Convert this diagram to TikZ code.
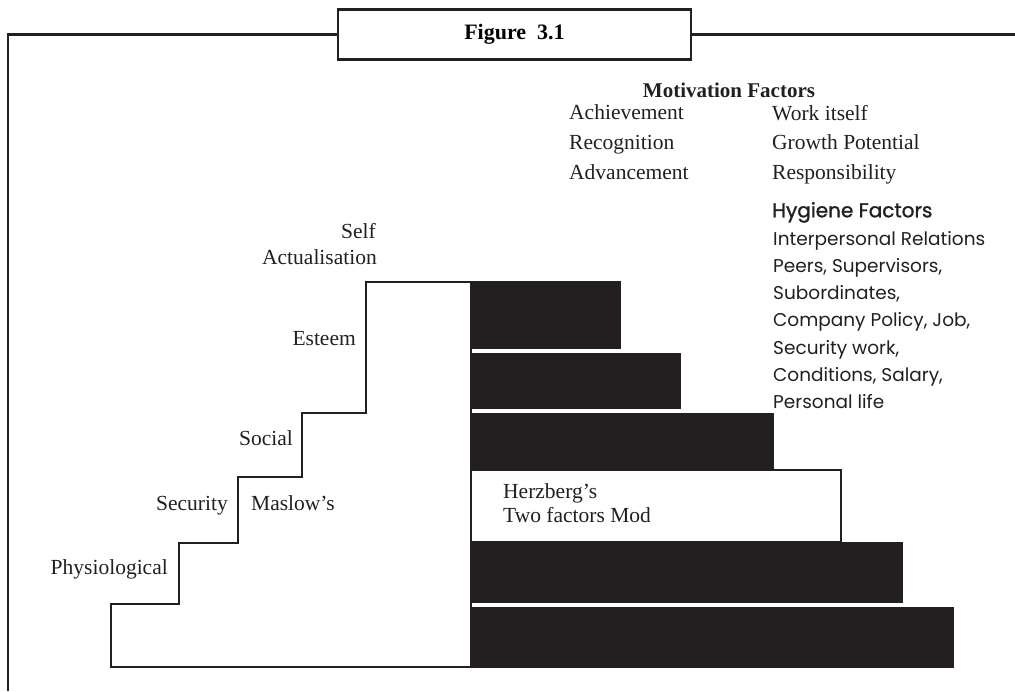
\documentclass[tikz,border=0pt]{standalone}
\usepackage{fontspec}
\setmainfont{Liberation Serif}
\newfontfamily\hygfont{Poppins}
\newfontfamily\hyghead[FakeBold=1.2]{Poppins}
\definecolor{ink}{HTML}{231F20}
\tikzset{
	lbl/.style={inner sep=0pt, text=ink, font=\fontsize{21.5}{25}\selectfont},
	hyg/.style={inner sep=0pt, anchor=mid west, text=ink, font=\hygfont\fontsize{18.5}{22}\selectfont},
	bar/.style={fill=ink, draw=none},
	rim/.style={draw=ink, line width=2.2pt}
}
\begin{document}
\begin{tikzpicture}[x=1pt,y=-1pt]
	\useasboundingbox (0,0) rectangle (1015,691);
	% frame and title
	\node(fig) [rim, fill=white, minimum width=353, minimum height=50, font=\fontsize{22}{25}\selectfont\bfseries] at (514.5,34.5) {Figure~ 3.1};
	\draw[rim] (fig.west) -- (8,34.5) -- (8,691);
	\draw[rim] (fig.east) -- (1015,34.5);
	% Herzberg bars
	\fill[bar] (471,281) rectangle (621,349);
	\fill[bar] (471,353) rectangle (681,409);
	\fill[bar] (471,413) rectangle (774,471);
	\draw[draw=ink, line width=1.5pt, fill=white] (471,470) rectangle (841,542);
	\fill[bar] (471,542) rectangle (903,603);
	\fill[bar] (471,607) rectangle (954,668);
	% Maslow steps
	\draw[rim, line join=miter] (111,667) -- (111,604) -- (179,604) -- (179,543) -- (238,543) -- (238,477)
		-- (302,477) -- (302,413) -- (366,413) -- (366,282) -- (471,282) -- (471,667) -- cycle;
	\node(self) [lbl, anchor=mid east] at (376,236) {Self};
	\node(actual) [lbl, anchor=mid east] at (377,262) {Actualisation};
	\node(esteem) [lbl, anchor=mid east] at (356,343) {Esteem};
	\node(social) [lbl, anchor=mid east] at (293,443) {Social};
	\node(secur) [lbl, anchor=mid east] at (228,508) {Security};
	\node(physio) [lbl, anchor=mid east] at (168,572) {Physiological};
	\node(maslow) [lbl, anchor=mid west] at (251,508) {Maslow's};
	\node(herz1) [lbl, anchor=mid west] at (503,496) {Herzberg's};
	\node(herz2) [lbl, anchor=mid west] at (503,520) {Two factors Mod};
	% motivation factors
	\node(motiv) [lbl, font=\fontsize{21}{24}\selectfont\bfseries] at (729,90) {Motivation Factors};
	\node(m1) [lbl, anchor=mid west] at (569,117) {Achievement};
	\node(m2) [lbl, anchor=mid west] at (569,147) {Recognition};
	\node(m3) [lbl, anchor=mid west] at (569,177) {Advancement};
	\node(m4) [lbl, anchor=mid west] at (772,118) {Work itself};
	\node(m5) [lbl, anchor=mid west] at (772,147) {Growth Potential};
	\node(m6) [lbl, anchor=mid west] at (772,177) {Responsibility};
	% hygiene factors
	\node(hygh) [hyg, font=\hyghead\fontsize{20}{24}\selectfont] at (772,215) {Hygiene Factors};
	\node(h1) [hyg] at (773,243) {Interpersonal Relations};
	\node(h2) [hyg] at (773,270) {Peers, Supervisors,};
	\node(h3) [hyg] at (773,297) {Subordinates,};
	\node(h4) [hyg] at (773,324) {Company Policy, Job,};
	\node(h5) [hyg] at (773,352) {Security work,};
	\node(h6) [hyg] at (773,379) {Conditions, Salary,};
	\node(h7) [hyg] at (773,406) {Personal life};
\end{tikzpicture}
\end{document}
